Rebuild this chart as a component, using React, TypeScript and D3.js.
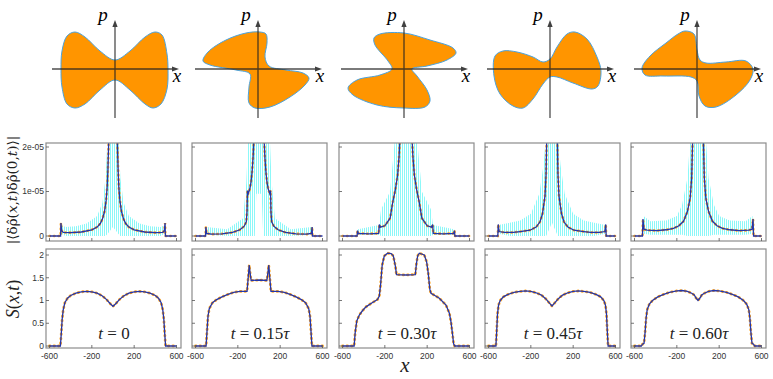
import { useEffect, useRef } from 'react';
import * as d3 from 'd3';

const W = 773;
const H = 379;

// ---- phase-space outlines (x, p) ----
const shapeT0 = [[0, 9], [15, 18], [30, 32], [40, 37], [47, 34], [52, 15], [53, 0], [52, -20], [46, -35], [38, -39], [30, -35], [15, -21], [0, -11], [-15, -21], [-30, -35], [-40, -39], [-48, -35], [-53, -18], [-54, 0], [-53, 18], [-48, 33], [-40, 37], [-30, 32], [-15, 18]];
const shapeT15 = [[2, 37], [8, 35], [9, 26], [7, 12], [11, 3], [28, -1], [45, -4], [51, -9], [47, -16], [32, -28], [12, -38], [-3, -39], [-9, -34], [-9, -18], [-8, -5], [-22, -1], [-48, 4], [-55, 8], [-50, 17], [-32, 29], [-12, 36]];
const shapeT30 = [[-24, 35], [0, 36], [26, 29], [49, 21], [52, 16], [43, 9], [23, 3], [8, 0], [13, -7], [23, -21], [26, -32], [21, -38], [-1, -39], [-27, -36], [-51, -26], [-56, -19], [-47, -11], [-24, -6], [-12, 0], [-16, 8], [-29, 24], [-30, 31]];
const shapeT45 = [[0, 10], [7, 22], [17, 35], [25, 37], [37, 30], [47, 12], [51, -2], [48, -17], [42, -20], [23, -14], [7, -8], [0, -8], [-7, -15], [-17, -30], [-27, -39], [-37, -37], [-50, -25], [-56, -7], [-55, 13], [-47, 18], [-33, 17], [-17, 12], [-7, 7]];
const shapeT60 = [[-12, 38], [-3, 35], [0, 19], [3, 9], [9, 6], [29, 7], [49, 8], [56, 0], [53, -11], [39, -26], [19, -38], [8, -37], [2, -27], [0, -12], [-6, -8], [-34, -7], [-52, -6], [-55, 1], [-47, 13], [-31, 26], [-19, 35]];
const shapes = [shapeT0, shapeT15, shapeT30, shapeT45, shapeT60];

// ---- density correlations |<δρ(x)δρ(0)>| in units of 1e-5 (left halves, symmetric) ----
const corrT0 = [[-600, 0], [-495, 0], [-492, 0.29], [-485, 0.12], [-470, 0.08], [-400, 0.075], [-300, 0.09], [-200, 0.14], [-150, 0.2], [-120, 0.28], [-100, 0.38], [-80, 0.55], [-65, 0.8], [-55, 1.1], [-48, 1.5], [-42, 2.0], [-36, 4]];
const corrT15 = [[-600, 0], [-505, 0], [-502, 0.2], [-495, 0.06], [-450, 0.04], [-350, 0.05], [-250, 0.08], [-180, 0.14], [-140, 0.22], [-120, 0.32], [-113, 0.55], [-109, 1.02], [-102, 0.95], [-88, 1.05], [-76, 1.2], [-65, 1.45], [-55, 1.8], [-48, 2.2], [-40, 4]];
const corrT30 = [[-600, 0], [-462, 0], [-458, 0.12], [-450, 0.06], [-350, 0.05], [-258, 0.06], [-252, 0.26], [-242, 0.2], [-200, 0.23], [-150, 0.4], [-126, 0.75], [-100, 1.05], [-79, 1.37], [-65, 1.8], [-57, 2.2], [-45, 4]];
const corrT45 = [[-600, 0], [-512, 0], [-508, 0.26], [-500, 0.1], [-450, 0.08], [-366, 0.08], [-300, 0.1], [-208, 0.13], [-150, 0.2], [-113, 0.32], [-90, 0.5], [-66, 0.9], [-56, 1.4], [-50, 2.2], [-40, 4]];
const corrT60 = [[-600, 0], [-525, 0], [-520, 0.38], [-510, 0.15], [-480, 0.13], [-389, 0.12], [-300, 0.14], [-232, 0.17], [-180, 0.23], [-137, 0.33], [-100, 0.55], [-74, 0.85], [-60, 1.3], [-50, 2.2], [-40, 4]];

// spread of the noisy samples (x, low, high), left halves
const spreadT0 = [[-488, 0.05, 0.25], [-450, 0, 0.2], [-350, 0, 0.22], [-250, 0, 0.28], [-150, 0, 0.45], [-100, 0, 0.75], [-70, 0, 1.3], [-50, 0.05, 2.3], [0, 0.2, 2.3]];
const spreadT15 = [[-498, 0.03, 0.2], [-300, 0, 0.15], [-150, 0, 0.4], [-120, 0, 1.2], [-100, 0, 2.3], [-40, 0, 2.3], [-25, 0.95, 2.3], [0, 0.95, 2.3]];
const spreadT30 = [[-455, 0.02, 0.15], [-255, 0.02, 0.25], [-235, 0, 0.6], [-150, 0, 1.0], [-100, 0, 2.3], [0, 0, 2.3]];
const spreadT45 = [[-505, 0.05, 0.25], [-400, 0, 0.3], [-300, 0, 0.35], [-200, 0, 0.5], [-120, 0, 0.95], [-80, 0, 1.6], [-55, 0, 2.3], [0, 0.3, 2.3]];
const spreadT60 = [[-515, 0.05, 0.45], [-450, 0.03, 0.33], [-300, 0.03, 0.35], [-200, 0.03, 0.45], [-150, 0.03, 0.7], [-100, 0, 1.3], [-70, 0, 2.3], [0, 0, 2.3]];

// ---- S(x,t) ----
const sT0 = [[-600, 0], [-497, 0], [-488, 0.3], [-480, 0.6], [-470, 0.8], [-455, 0.95], [-430, 1.05], [-400, 1.11], [-350, 1.16], [-300, 1.19], [-250, 1.2], [-200, 1.19], [-150, 1.16], [-100, 1.1], [-60, 1.02], [-30, 0.94], [0, 0.87]];
const sT15 = [[-600, 0], [-500, 0], [-492, 0.3], [-482, 0.65], [-470, 0.82], [-440, 0.95], [-400, 1.02], [-350, 1.08], [-300, 1.13], [-240, 1.18], [-180, 1.2], [-113, 1.2], [-102, 1.5], [-92, 1.78], [-84, 1.6], [-74, 1.44], [0, 1.45]];
const sT30 = [[-600, 0], [-490, 0], [-480, 0.3], [-465, 0.55], [-441, 0.68], [-410, 0.78], [-378, 0.86], [-320, 0.95], [-270, 1.02], [-252, 1.1], [-240, 1.35], [-225, 1.78], [-205, 1.98], [-174, 2.04], [-140, 2.03], [-120, 1.98], [-100, 1.75], [-90, 1.57], [0, 1.56], [88, 1.57], [98, 1.8], [110, 1.98], [126, 2.04], [173, 2.0], [195, 1.85], [210, 1.6], [225, 1.25], [236, 1.16], [280, 1.1], [315, 1.05], [378, 0.9], [410, 0.72], [425, 0.53], [440, 0.25], [450, 0.05], [460, 0], [600, 0]];
const sT45 = [[-600, 0], [-530, 0], [-522, 0.35], [-515, 0.7], [-505, 0.9], [-490, 1.0], [-460, 1.08], [-420, 1.13], [-360, 1.18], [-300, 1.2], [-250, 1.21], [-200, 1.2], [-150, 1.17], [-100, 1.12], [-60, 1.04], [-30, 0.96], [0, 0.88]];
const sT60 = [[-600, 0], [-535, 0], [-525, 0.04], [-510, 0.06], [-500, 0.3], [-490, 0.62], [-480, 0.8], [-460, 0.92], [-430, 1.0], [-380, 1.08], [-330, 1.13], [-270, 1.18], [-200, 1.21], [-150, 1.22], [-100, 1.2], [-60, 1.16], [-35, 1.12], [-20, 1.06], [0, 1.0]];

const timeLabels = ['0', '0.15', '0.30', '0.45', '0.60'];
const xTicks = [-600, -200, 200, 600];
const corrTicks = [0, 1, 2];
const corrTickLabels = ['0', '1e-05', '2e-05'];
const sTicks = [0, 0.5, 1, 1.5, 2];

// reflect a left half onto x > 0
const mirror = (half: number[][]) => {
  const right = half.filter(d => d[0] < 0).map(d => [-d[0], ...d.slice(1)]).reverse();
  return [...half, ...right];
};

const corrSeries = [corrT0, corrT15, corrT30, corrT45, corrT60].map(mirror);
const spreadSeries = [spreadT0, spreadT15, spreadT30, spreadT45, spreadT60].map(mirror);
const sSeries = [mirror(sT0), mirror(sT15), sT30, mirror(sT45), mirror(sT60)];

export default function App() {
  const svgRef = useRef<SVGSVGElement>(null);

  useEffect(() => {
    if (!svgRef.current) return;
    const svg = d3.select(svgRef.current);
    svg.selectAll('*').remove();

    const panelLefts = [46, 192, 339, 485, 631];
    const panelW = 135;
    const midTop = 143, midBot = 241;
    const botTop = 249, botBot = 348;
    const topX = [115, 258, 404, 550, 697];
    const topY = 69;

    const blue = '#2536a8';
    const orange = '#ffa41f';
    const frame = '#8c8c8c';
    const tickFont = 'Liberation Sans, Arial, sans-serif';
    const mathFont = 'Liberation Serif, Times New Roman, serif';

    const defs = svg.append('defs');
    defs.append('pattern')
      .attr('id', 'cyanHatch')
      .attr('patternUnits', 'userSpaceOnUse')
      .attr('width', 2)
      .attr('height', 4)
      .append('rect')
      .attr('width', 1)
      .attr('height', 4)
      .attr('fill', '#3ff4f4');

    // ---- top row: phase-space pictures ----
    shapes.forEach((shape, i) => {
      const sx = d3.scaleLinear().domain([-60, 60]).range([topX[i] - 60, topX[i] + 60]);
      const sp = d3.scaleLinear().domain([-60, 60]).range([topY + 60, topY - 60]);
      const outline = d3.line<number[]>()
        .curve(d3.curveCatmullRomClosed.alpha(0.5))
        .x(d => sx(d[0]))
        .y(d => sp(d[1]));

      svg.append('path')
        .attr('d', outline(shape))
        .attr('fill', '#ff9500')
        .attr('stroke', '#4aa3df')
        .attr('stroke-width', 1);

      const g = svg.append('g').attr('opacity', 0.8);
      g.append('line')
        .attr('x1', sx(-63)).attr('x2', sx(59))
        .attr('y1', sp(0)).attr('y2', sp(0))
        .attr('stroke', '#222').attr('stroke-width', 1.3);
      g.append('path')
        .attr('d', `M${sx(64)},${sp(0)}L${sx(57)},${sp(0) - 2.6}L${sx(57)},${sp(0) + 2.6}Z`)
        .attr('fill', '#111');
      g.append('line')
        .attr('x1', sx(0)).attr('x2', sx(0))
        .attr('y1', sp(-49)).attr('y2', sp(44))
        .attr('stroke', '#222').attr('stroke-width', 1.3);
      g.append('path')
        .attr('d', `M${sx(0)},${sp(49)}L${sx(0) - 2.6},${sp(42)}L${sx(0) + 2.6},${sp(42)}Z`)
        .attr('fill', '#111');

      svg.append('text')
        .attr('x', sx(-12)).attr('y', sp(48))
        .attr('text-anchor', 'middle')
        .style('font-family', mathFont).style('font-style', 'italic')
        .style('font-size', '19px')
        .text('p');
      svg.append('text')
        .attr('x', sx(62)).attr('y', sp(-13))
        .attr('text-anchor', 'middle')
        .style('font-family', mathFont).style('font-style', 'italic')
        .style('font-size', '19px')
        .text('x');
    });

    // ---- middle and bottom rows ----
    panelLefts.forEach((L, i) => {
      const x = d3.scaleLinear().domain([-600, 600]).range([L + 3.5, L + 130.5]);
      const yC = d3.scaleLinear().domain([0, 2]).range([236, 147]);
      const yS = d3.scaleLinear().domain([0, 2]).range([346, 255]);

      // clip paths
      defs.append('clipPath').attr('id', `clipMid${i}`)
        .append('rect').attr('x', L).attr('y', midTop).attr('width', panelW).attr('height', midBot - midTop);
      defs.append('clipPath').attr('id', `clipBot${i}`)
        .append('rect').attr('x', L).attr('y', botTop).attr('width', panelW).attr('height', botBot - botTop);

      // middle: correlations
      const gm = svg.append('g').attr('clip-path', `url(#clipMid${i})`);
      const band = d3.area<number[]>()
        .x(d => x(d[0]))
        .y0(d => yC(d[1]))
        .y1(d => yC(d[2]));
      gm.append('path')
        .attr('d', band(spreadSeries[i]))
        .attr('fill', 'url(#cyanHatch)')
        .attr('opacity', 0.6);

      const lineC = d3.line<number[]>().x(d => x(d[0])).y(d => yC(d[1]));
      gm.append('path')
        .attr('d', lineC(corrSeries[i]))
        .attr('fill', 'none')
        .attr('stroke', orange)
        .attr('stroke-width', 2.6)
        .attr('stroke-linecap', 'round')
        .attr('stroke-dasharray', '0.5 4');
      gm.append('path')
        .attr('d', lineC(corrSeries[i]))
        .attr('fill', 'none')
        .attr('stroke', blue)
        .attr('stroke-width', 1.3);

      svg.append('rect')
        .attr('x', L).attr('y', midTop)
        .attr('width', panelW).attr('height', midBot - midTop)
        .attr('fill', 'none').attr('stroke', frame).attr('stroke-width', 1.2);

      corrTicks.forEach((t, k) => {
        svg.append('line')
          .attr('x1', L).attr('x2', L + 3)
          .attr('y1', yC(t)).attr('y2', yC(t))
          .attr('stroke', '#555').attr('stroke-width', 0.8);
        if (i === 0) {
          svg.append('text')
            .attr('x', L - 2).attr('y', yC(t)).attr('dy', '0.35em')
            .attr('text-anchor', 'end')
            .style('font-family', tickFont).style('font-size', '8.5px').style('fill', '#333')
            .text(corrTickLabels[k]);
        }
      });
      xTicks.forEach(t => {
        svg.append('line')
          .attr('x1', x(t)).attr('x2', x(t))
          .attr('y1', midBot).attr('y2', midBot - 3)
          .attr('stroke', '#555').attr('stroke-width', 0.8);
      });

      // bottom: S(x,t)
      const gb = svg.append('g').attr('clip-path', `url(#clipBot${i})`);
      const lineS = d3.line<number[]>().x(d => x(d[0])).y(d => yS(d[1]));
      gb.append('path')
        .attr('d', lineS(sSeries[i]))
        .attr('fill', 'none')
        .attr('stroke', orange)
        .attr('stroke-width', 2.8)
        .attr('stroke-linecap', 'round')
        .attr('stroke-dasharray', '0.5 4');
      gb.append('path')
        .attr('d', lineS(sSeries[i]))
        .attr('fill', 'none')
        .attr('stroke', blue)
        .attr('stroke-width', 1.3);

      svg.append('rect')
        .attr('x', L).attr('y', botTop)
        .attr('width', panelW).attr('height', botBot - botTop)
        .attr('fill', 'none').attr('stroke', frame).attr('stroke-width', 1.2);

      sTicks.forEach(t => {
        svg.append('line')
          .attr('x1', L).attr('x2', L + 3)
          .attr('y1', yS(t)).attr('y2', yS(t))
          .attr('stroke', '#555').attr('stroke-width', 0.8);
        if (i === 0) {
          svg.append('text')
            .attr('x', L - 2).attr('y', yS(t)).attr('dy', '0.35em')
            .attr('text-anchor', 'end')
            .style('font-family', tickFont).style('font-size', '8.5px').style('fill', '#333')
            .text(String(t));
        }
      });
      xTicks.forEach(t => {
        svg.append('line')
          .attr('x1', x(t)).attr('x2', x(t))
          .attr('y1', botBot).attr('y2', botBot - 3)
          .attr('stroke', '#555').attr('stroke-width', 0.8);
        svg.append('text')
          .attr('x', x(t)).attr('y', botBot + 11)
          .attr('text-anchor', 'middle')
          .style('font-family', tickFont).style('font-size', '8.5px').style('fill', '#333')
          .text(String(t));
      });

      // time label
      const tl = svg.append('text')
        .attr('x', L + 68).attr('y', 339)
        .attr('text-anchor', 'middle')
        .style('font-family', mathFont).style('font-size', '17px').style('fill', '#222');
      tl.append('tspan').style('font-style', 'italic').text('t');
      tl.append('tspan').text(` = ${timeLabels[i]}`);
      if (i > 0) tl.append('tspan').style('font-style', 'italic').text('τ');
    });

    // axis titles
    const ml = svg.append('text')
      .attr('transform', 'translate(17,190) rotate(-90)')
      .attr('text-anchor', 'middle')
      .style('font-family', 'DejaVu Serif, serif').style('font-size', '13.5px').style('fill', '#222');
    ml.append('tspan').text('|⟨δρ̂(');
    ml.append('tspan').style('font-style', 'italic').text('x');
    ml.append('tspan').text(',');
    ml.append('tspan').style('font-style', 'italic').text('t');
    ml.append('tspan').text(')δρ̂(0,');
    ml.append('tspan').style('font-style', 'italic').text('t');
    ml.append('tspan').text(')⟩|');

    const sl = svg.append('text')
      .attr('transform', 'translate(19,299) rotate(-90)')
      .attr('text-anchor', 'middle')
      .style('font-family', mathFont).style('font-size', '18px').style('fill', '#222');
    sl.append('tspan').style('font-style', 'italic').text('S');
    sl.append('tspan').text('(');
    sl.append('tspan').style('font-style', 'italic').text('x');
    sl.append('tspan').text(',');
    sl.append('tspan').style('font-style', 'italic').text('t');
    sl.append('tspan').text(')');
    svg.append('text')
      .attr('x', 405).attr('y', 372)
      .attr('text-anchor', 'middle')
      .style('font-family', mathFont).style('font-style', 'italic').style('font-size', '21px').style('fill', '#222')
      .text('x');
  }, []);

  return (
    <svg
      ref={svgRef}
      width={W}
      height={H}
      style={{ position: 'absolute', left: 0, top: 0, background: '#fff' }}
    />
  );
}
